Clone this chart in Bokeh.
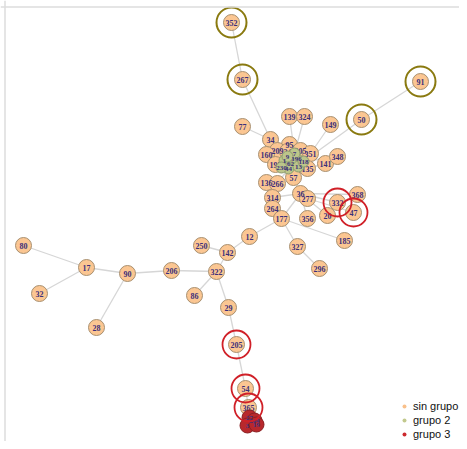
from bokeh.plotting import figure
from bokeh.models import Range1d, ColumnDataSource, Legend, LegendItem, Span
from bokeh.embed import file_html
from bokeh.resources import INLINE
from bokeh.core.properties import value

# ---- node data (ids, labels, positions, groups) ----
node_id = ["352", "267", "91", "50", "77", "139", "324", "149", "34", "95",
           "209", "24", "205c", "351", "160", "195", "135", "141", "348", "57",
           "136", "266", "314", "36", "277", "332", "368", "47", "20", "264",
           "177", "356", "185", "327", "296", "12", "142", "250", "322", "206",
           "90", "17", "80", "32", "28", "86", "29", "205", "54", "365",
           "g1", "g2", "g3", "g4", "g5", "g6", "g7", "g8", "g9",
           "r1", "r2", "r3", "r4"]
node_label = ["352", "267", "91", "50", "77", "139", "324", "149", "34", "95",
              "209", "24", "205", "351", "160", "195", "135", "141", "348", "57",
              "136", "266", "314", "36", "277", "332", "368", "47", "20", "264",
              "177", "356", "185", "327", "296", "12", "142", "250", "322", "206",
              "90", "17", "80", "32", "28", "86", "29", "205", "54", "365",
              "1", "62", "196", "44", "13", "230", "7", "118", "9",
              "27", "204", "3", "19"]
node_x = [231, 242, 420, 361, 242, 289, 304, 330, 270, 289,
          277, 287, 300, 310, 266, 275, 307, 325, 337, 293,
          266, 277, 272, 300, 307, 337, 357, 353, 327, 272,
          281, 307, 344, 297, 319, 249, 227, 201, 216, 171,
          127, 86, 23, 39, 96, 194, 228, 236, 245, 248,
          284, 290, 296, 288, 298, 281, 294, 303, 287,
          249, 254, 247, 256]
node_y = [22, 79, 81, 119, 126, 116, 116, 124, 139, 144,
          150, 151, 150, 153, 154, 164, 168, 163, 156, 177,
          182, 183, 197, 193, 198, 202, 194, 212, 215, 208,
          218, 218, 240, 246, 268, 236, 252, 245, 271, 270,
          273, 267, 245, 293, 327, 295, 307, 344, 388, 407,
          160, 163, 158, 168, 166, 167, 153, 161, 156,
          417, 420, 425, 424]
node_group = ["sin grupo"] * 50 + ["grupo 2"] * 9 + ["grupo 3"] * 4

olive_ring = ["352", "267", "91", "50"]
red_ring = ["332", "47", "205", "54", "365"]

edges = [("352", "267"), ("267", "34"), ("77", "34"), ("34", "209"),
         ("139", "g7"), ("324", "g7"), ("149", "351"), ("50", "g8"),
         ("91", "50"), ("348", "g8"), ("141", "135"), ("160", "g1"),
         ("195", "g6"), ("57", "g4"), ("136", "266"), ("266", "g4"),
         ("36", "57"), ("36", "332"), ("36", "368"), ("36", "20"),
         ("277", "47"), ("36", "356"), ("314", "36"), ("264", "177"),
         ("177", "36"), ("177", "185"), ("177", "327"), ("327", "296"),
         ("177", "12"), ("12", "142"), ("142", "250"), ("142", "322"),
         ("322", "206"), ("206", "90"), ("90", "17"), ("17", "80"),
         ("17", "32"), ("90", "28"), ("322", "86"), ("322", "29"),
         ("29", "205"), ("205", "54"), ("54", "365"), ("365", "r1"),
         ("95", "g7"), ("24", "g9"), ("205c", "g8"), ("351", "g8")]
inner_edges = [("g1", "g2"), ("g2", "g3"), ("g3", "g7"), ("g4", "g5"),
               ("g5", "g8"), ("g6", "g1"), ("g9", "g2"), ("g2", "g5"),
               ("r1", "r2"), ("r2", "r3"), ("r3", "r4")]

group_names = ["sin grupo", "grupo 2", "grupo 3"]
group_fill = {"sin grupo": "#fbc692", "grupo 2": "#bcc58a", "grupo 3": "#b8282c"}
group_line = {"sin grupo": "#a89070", "grupo 2": "#8c9a70", "grupo 3": "#8a1f22"}
group_size = {"sin grupo": 16, "grupo 2": 11, "grupo 3": 15}
legend_fill = {"sin grupo": "#f9c08a", "grupo 2": "#c2c98e", "grupo 3": "#cc2a2e"}

pos = {n: (x, y) for n, x, y in zip(node_id, node_x, node_y)}

p = figure(width=459, height=441, output_backend="svg", toolbar_location=None,
           x_range=Range1d(0, 459), y_range=Range1d(441, 0),
           x_axis_type=None, y_axis_type=None, min_border=0)
p.grid.visible = False
p.outline_line_color = None
p.background_fill_color = "white"

p.add_layout(Span(location=6.5, dimension="width", line_color="#dddddd", line_width=1.5))
p.add_layout(Span(location=4.5, dimension="height", line_color="#dddddd", line_width=1.5))

ex = [[pos[a][0], pos[b][0]] for a, b in edges]
ey = [[pos[a][1], pos[b][1]] for a, b in edges]
p.multi_line(ex, ey, line_color="#d6d6d6", line_width=1.3)
ix = [[pos[a][0], pos[b][0]] for a, b in inner_edges]
iy = [[pos[a][1], pos[b][1]] for a, b in inner_edges]
p.multi_line(ix, iy, line_color="#2d2d8c", line_width=0.8, line_alpha=0.7)

for g in group_names:
    idx = [i for i, gg in enumerate(node_group) if gg == g]
    src = ColumnDataSource(dict(x=[node_x[i] for i in idx], y=[node_y[i] for i in idx],
                                t=[node_label[i] for i in idx]))
    p.scatter("x", "y", source=src, size=group_size[g], fill_color=group_fill[g],
              line_color=group_line[g], line_width=1)
    p.text("x", "y", text="t", source=src, text_align="center", text_baseline="middle",
           text_font=value("Liberation Serif"), text_font_style="bold",
           text_font_size="7px" if g != "sin grupo" else "8px", text_color="#3b2f7a")

ox = [pos[n][0] for n in olive_ring]
oy = [pos[n][1] for n in olive_ring]
p.scatter(ox, oy, size=30, fill_color=None, line_color="#8a7a10", line_width=2)
rx = [pos[n][0] for n in red_ring]
ry = [pos[n][1] for n in red_ring]
p.scatter(rx, ry, size=28, fill_color=None, line_color="#d02028", line_width=1.8)

items = []
for g in group_names:
    r = p.scatter(x=[-1000], y=[-1000], size=9, fill_color=legend_fill[g], line_color=None)
    items.append(LegendItem(label=g, renderers=[r]))
legend = Legend(items=items, location=(399, 1), orientation="vertical",
                label_text_font="Liberation Sans", label_text_font_size="11px",
                label_text_color="#111111", label_height=12, glyph_height=12,
                glyph_width=10, spacing=2, padding=0, margin=0, label_standoff=4,
                border_line_color=None, background_fill_alpha=0)
p.add_layout(legend)

open("out.html", "w").write(file_html(p, INLINE))
